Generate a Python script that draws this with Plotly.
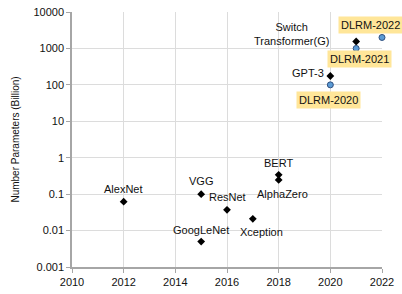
import plotly.graph_objects as go
import math

models = ["AlexNet", "VGG", "GoogLeNet", "ResNet", "Xception", "BERT", "AlphaZero", "GPT-3", "Switch<br>Transformer(G)"]
model_years = [2012, 2015, 2015, 2016, 2017, 2018, 2018, 2020, 2021]
model_params = [0.062, 0.1, 0.005, 0.037, 0.021, 0.34, 0.245, 175, 1550]

dlrm = ["DLRM-2020", "DLRM-2021", "DLRM-2022"]
dlrm_years = [2020, 2021, 2022]
dlrm_params = [100, 1000, 2000]

x_ticks = [2010, 2012, 2014, 2016, 2018, 2020, 2022]
y_ticks = [0.001, 0.01, 0.1, 1, 10, 100, 1000, 10000]
y_tick_labels = ["0.001", "0.01", "0.1", "1", "10", "100", "1000", "10000"]

# label offsets (px) relative to each marker
model_shift = [(0, 13), (0, 13), (0, 12), (0, 13), (9, -13), (0, 12), (4, -14), (-22, 3), (-65, 8)]
dlrm_shift = [(-2, -15), (3, -11), (-12, 12)]

FONT = "Liberation Sans"

fig = go.Figure()
fig.add_trace(go.Scatter(
    x=model_years, y=model_params, mode="markers",
    marker=dict(symbol="diamond", size=6, color="black"),
    showlegend=False, hoverinfo="skip"))
fig.add_trace(go.Scatter(
    x=dlrm_years, y=dlrm_params, mode="markers",
    marker=dict(symbol="circle", size=6, color="#5B9BD5", line=dict(color="#2F4F7F", width=1)),
    showlegend=False, hoverinfo="skip", cliponaxis=False))

for name, xv, yv, (dx, dy) in zip(models, model_years, model_params, model_shift):
    fig.add_annotation(x=xv, y=math.log10(yv), text=name, showarrow=False,
                       xshift=dx, yshift=dy, font=dict(family=FONT, size=11, color="#111"))
for name, xv, yv, (dx, dy) in zip(dlrm, dlrm_years, dlrm_params, dlrm_shift):
    fig.add_annotation(x=xv, y=math.log10(yv), text=name, showarrow=False,
                       xshift=dx, yshift=dy, bgcolor="#FFE699", borderpad=2,
                       font=dict(family=FONT, size=11, color="#111"))

fig.update_layout(
    width=402, height=294,
    margin=dict(l=72, r=20, t=12, b=27, autoexpand=False),
    paper_bgcolor="white", plot_bgcolor="white",
    font=dict(family=FONT, size=11, color="#111"),
)
fig.update_xaxes(range=[2010, 2022], tickvals=x_ticks, ticktext=[str(v) for v in x_ticks],
                 showgrid=True, gridcolor="#DCDCDC", gridwidth=1,
                 showline=True, linecolor="#A6A6A6", linewidth=1.5,
                 ticks="outside", ticklen=4, tickcolor="#A6A6A6",
                 tickfont=dict(family=FONT, size=11, color="#111"), zeroline=False,
                 automargin=False, ticklabeloverflow="allow")
fig.update_yaxes(type="log", range=[-3, 4], tickvals=y_ticks, ticktext=y_tick_labels,
                 showgrid=True, gridcolor="#DCDCDC", gridwidth=1,
                 showline=True, linecolor="#A6A6A6", linewidth=1.5,
                 ticks="outside", ticklen=4, tickcolor="#A6A6A6",
                 tickfont=dict(family=FONT, size=11, color="#111"),
                 title=dict(text="Number Parameters (Billion)", font=dict(family=FONT, size=10, color="#111"), standoff=12),
                 zeroline=False, automargin=False, ticklabeloverflow="allow")

fig.write_html("out.html", config={"displayModeBar": False},
               post_script="document.body.style.margin='0';document.body.style.overflow='hidden';")
